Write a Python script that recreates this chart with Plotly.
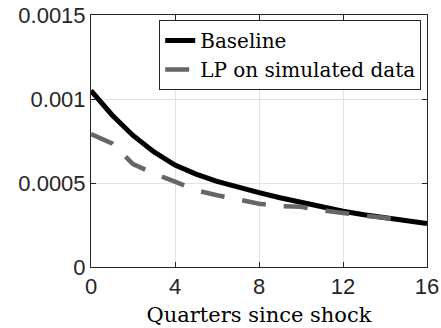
import plotly.graph_objects as go

# Impulse responses by horizon (quarters since shock)
quarters = list(range(17))
baseline = [0.001050, 0.000905, 0.000783, 0.000685, 0.000607, 0.000553,
            0.000510, 0.000474, 0.000443, 0.000412, 0.000384, 0.000357,
            0.000332, 0.000311, 0.000292, 0.000275, 0.000259]
lp_quarters = list(range(16))
lp_simulated = [0.000792, 0.000736, 0.000613, 0.000556, 0.000508, 0.000457,
                0.000427, 0.000400, 0.000377, 0.000362, 0.000358, 0.000338,
                0.000320, 0.000305, 0.000293, 0.000272]

x_ticks = [0, 4, 8, 12, 16]
y_ticks = [0, 0.0005, 0.001, 0.0015]
y_tick_text = ["0", "0.0005", "0.001", "0.0015"]

axis_color = "#262626"
serif = "DejaVu Serif"
sans = "Liberation Sans"

fig = go.Figure()
fig.add_trace(go.Scatter(
    x=quarters, y=baseline, mode="lines", name="Baseline",
    line=dict(color="black", width=5),
))
fig.add_trace(go.Scatter(
    x=lp_quarters, y=lp_simulated, mode="lines", name="LP on simulated data",
    line=dict(color="#666666", width=4.5, dash="24px,18px"),
))

fig.update_layout(
    template="none",
    width=441, height=328,
    margin=dict(l=91, r=14, t=15, b=61, pad=0),
    paper_bgcolor="white", plot_bgcolor="white",
    showlegend=True,
    legend=dict(
        x=0.203, y=0.98, xanchor="left", yanchor="top",
        bgcolor="white", bordercolor=axis_color, borderwidth=1,
        font=dict(family=serif, size=20, color="black"),
        itemwidth=30, tracegroupgap=0,
    ),
)
fig.update_xaxes(
    automargin=False,
    range=[0, 16], tickvals=x_ticks,
    showgrid=True, gridcolor="#e3e3e3", gridwidth=1,
    showline=True, linecolor=axis_color, linewidth=1, mirror="ticks",
    ticks="inside", ticklen=5, tickcolor=axis_color,
    tickfont=dict(family=sans, size=22, color=axis_color),
    title=dict(text="Quarters since shock", standoff=8,
               font=dict(family=serif, size=21, color="black")),
    zeroline=False,
)
fig.update_yaxes(
    automargin=False,
    range=[0, 0.0015], tickvals=y_ticks, ticktext=y_tick_text,
    showgrid=True, gridcolor="#e3e3e3", gridwidth=1,
    showline=True, linecolor=axis_color, linewidth=1, mirror="ticks",
    ticks="inside", ticklen=5, tickcolor=axis_color,
    tickfont=dict(family=sans, size=22, color=axis_color),
    zeroline=False,
)

fig.write_html("out.html")
